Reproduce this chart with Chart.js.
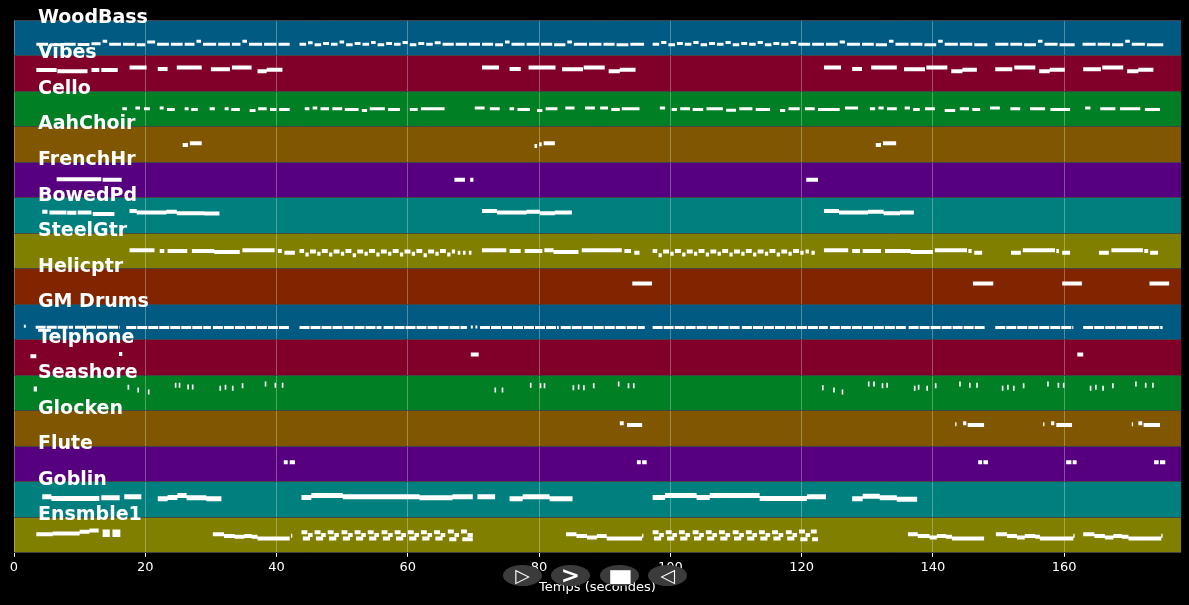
<!DOCTYPE html>
<html>
<head>
<meta charset="utf-8">
<script src="https://cdn.jsdelivr.net/npm/chart.js@4.4.0/dist/chart.umd.min.js"></script>
<style>
  body { margin: 0; background: #000; }
  #wrap { position: relative; width: 1189px; height: 605px; }
  .btn { position: absolute; top: 565px; width: 39px; height: 21px; border-radius: 50%;
         background: #3b3b3b; color: #fff; font: bold 19px "DejaVu Sans"; text-align: center;
         line-height: 21px; }
</style>
</head>
<body>
<div id="wrap">
  <canvas id="chart"></canvas>
  <div class="btn" style="left:503px">▷</div>
  <div class="btn" style="left:551px;font-size:23px">&gt;</div>
  <div class="btn" style="left:600px"><span style="display:inline-block;transform:scale(1.4,0.95)">■</span></div>
  <div class="btn" style="left:648px">◁</div>
</div>
<script>
'use strict';
// track names, top to bottom
const trackNames = ['WoodBass', 'Vibes', 'Cello', 'AahChoir', 'FrenchHr', 'BowedPd', 'SteelGtr', 'Helicptr',
  'GM Drums', 'Telphone', 'Seashore', 'Glocken', 'Flute', 'Goblin', 'Ensmble1'];
const laneColors = ['#005a82', '#80002a', '#007f24', '#805600', '#56007f', '#007f7f', '#807f00', '#802500'];
const timeTicks = [0, 20, 40, 60, 80, 100, 120, 140, 160];
const songEnd = 177.8;

// notes: [start (s), end (s), pitch level inside the lane]
const woodBass = [[3.4,5.2,.68],[5.5,7.3,.7],[7.6,9.4,.68],[9.7,11.5,.69],[11.8,13.2,.67],[13.5,14.2,.6],[14.5,16.3,.68],[16.6,18.4,.68],[18.7,20,.7],[20.3,21.5,.62],[21.8,23.6,.68],[23.9,25.7,.68],[26,27.5,.68],[27.8,28.5,.6],[28.8,30.8,.68],[31.1,32.9,.68],[33.2,34.5,.68],[34.8,35.5,.6],[35.8,37.8,.68],[38.1,40,.68],[40.3,42,.68],
  [43.5,44.5,.68],[44.8,45.5,.64],[45.8,46.8,.7],[47.1,48,.66],[48.3,49.3,.68],[49.6,50.3,.62],[50.6,51.6,.7],[51.9,52.8,.66],[53.1,54.1,.68],[54.4,55.1,.63],[55.4,56.4,.7],[56.7,57.6,.66],[57.9,58.9,.68],[59.2,60,.63],[60.3,61.3,.7],[61.6,62.5,.66],[62.8,63.8,.68],[64.1,65,.64],[65.3,67,.68],[67.3,69,.68],[69.3,71,.68],[71.3,73,.68],[73.3,74.5,.7],[74.8,75.5,.62],[75.8,77.8,.68],[78.1,80,.68],[80.3,82,.68],[82.3,84,.7],[84.3,85,.62],[85.3,87.3,.68],[87.6,89.5,.68],[89.8,91.5,.68],[91.8,93.6,.7],[93.9,96,.68],
  [97.3,98.3,.68],[98.6,99.4,.63],[99.7,100.7,.7],[101,101.9,.66],[102.2,103.2,.68],[103.5,104.3,.63],[104.6,105.6,.7],[105.9,106.8,.66],[107.1,108.1,.68],[108.4,109.2,.63],[109.5,110.5,.7],[110.8,111.7,.66],[112,113,.68],[113.3,114.1,.63],[114.4,115.4,.7],[115.7,116.6,.66],[116.9,118,.68],[118.3,119.2,.63],[119.5,121.3,.68],[121.6,123.4,.68],[123.7,125.5,.68],[125.8,126.6,.62],[126.9,128.9,.68],[129.2,131,.68],[131.3,133,.7],[133.3,134,.6],[134.3,136.3,.68],[136.6,138.4,.68],[138.7,140.5,.7],[140.8,141.5,.6],[141.8,143.8,.68],[144.1,146,.68],[146.3,148.3,.7],
  [149.5,151.5,.68],[151.8,153.6,.68],[153.9,155.7,.7],[156,156.7,.6],[157,159,.68],[159.3,161.6,.7],
  [162.8,164.8,.68],[165.1,167,.68],[167.3,169,.7],[169.3,170,.6],[170.3,172.3,.68],[172.6,175.1,.7]];
const vibes = [[3.4,6.5,.41],[6.6,11.2,.44],[11.8,13,.41],[13.3,15.8,.41],[17.6,20.2,.34],[21.9,23.4,.38],[24.8,28.6,.34],[30,32.9,.39],[33.2,36.2,.34],[37.1,38.5,.44],[38.5,40.9,.4],
  [71.3,73.9,.34],[75.5,77.2,.38],[78.4,82.5,.34],[83.5,86.7,.39],[86.8,90,.34],[90.6,92.3,.44],[92.3,94.7,.4],
  [123.4,126,.34],[127.7,129.2,.38],[130.6,134.5,.34],[135.6,138.8,.39],[139,142.2,.34],[142.8,144.5,.44],[144.5,146.7,.4],[149.5,152.1,.39],[152.4,155.6,.34],[156.2,157.8,.44],[157.8,160.1,.4],[162.9,165.6,.39],[165.8,169,.34],[169.6,171.3,.44],[171.3,173.6,.4]];
const cello = [[16.5,17.2,.5],[18.5,19.2,.48],[19.8,20.7,.5],[22.2,22.8,.48],[23.3,24.5,.52],[26,26.6,.5],[27,28,.52],[29.8,30.6,.5],[32.1,32.7,.5],[33.1,34.4,.52],[35.9,36.8,.55],[37.2,38.5,.5],[39,40,.52],[40.4,42,.52],[44.3,45,.5],[45.5,46.2,.48],[46.7,48,.5],[48.5,50,.5],[50.4,52.5,.52],[53,53.8,.55],[54.2,56.5,.5],[57,58.8,.52],[60.3,61.5,.52],[62,65.6,.5],[70.2,71.7,.48],[72.5,74,.5],[75.5,76.2,.5],[76.7,78.6,.52],[79.7,80.5,.55],[81,82.8,.5],[84,85.4,.48],[87,88.5,.48],[89.3,90.5,.48],[91,92.3,.52],[92.6,95.3,.5],[98.4,99.2,.48],[100.2,101,.52],[101.5,103,.5],[103.4,105,.52],[105.5,108,.5],[108.5,110,.54],[110.5,112.5,.5],[113,115.2,.52],[116.7,117.5,.55],[118,119.7,.5],[120.5,122,.5],[122.5,125.8,.52],[126.6,128.6,.48],[130.4,131.2,.5],[131.7,132.5,.48],[133,134.5,.5],[135.7,136.5,.48],[137,138,.52],[138.8,140.3,.5],[141.8,143.4,.55],[144.1,145.5,.5],[146,147.2,.52],[148.7,150.2,.48],[151.8,153.3,.5],[154.8,157.1,.5],[157.9,160.9,.52],[163.2,164,.48],[165.5,167.8,.5],[168.5,171.6,.5],[172.3,174.6,.52]];
const aahChoir = [[25.7,26.5,.52],[26.8,28.6,.47],[79.3,79.7,.55],[80,80.4,.5],[80.7,82.4,.47],[131.3,132.1,.52],[132.4,134.4,.47]];
const frenchHr = [[6.5,13.3,.48],[13.5,16.4,.5],[67.1,68.7,.5],[69.5,70,.5],[120.7,122.5,.5]];
const bowedPd = [[4.3,5.1,.4],[5.4,8,.42],[8.1,9.5,.43],[9.7,11.8,.42],[12,15.3,.46],[17.6,18.7,.38],[18.7,23.2,.42],[23.2,24.8,.4],[24.8,29,.44],[29,31.3,.45],
  [71.3,73.6,.38],[73.6,78.1,.42],[78.1,80.1,.4],[80.1,82.4,.44],[82.4,85,.42],
  [123.4,125.7,.38],[125.7,130.1,.42],[130.1,132.5,.4],[132.5,135,.44],[135,137.1,.42]];
const steelGtr = [[17.6,21.4,.48],[22.2,22.9,.5],[23.4,26.4,.5],[27.1,30.5,.5],[30.5,34.4,.53],[34.8,39.7,.48],[40.2,40.8,.5],[41.2,42.8,.55],
  [43.5,44.2,.5],[44.4,44.9,.6],[45.1,46,.52],[46.2,46.7,.58],[46.9,47.8,.5],[48,48.5,.6],[48.7,49.6,.52],[49.8,50.3,.58],[50.5,51.4,.5],[51.6,52.1,.62],[52.3,53.2,.52],[53.4,53.9,.58],[54.1,55,.5],[55.2,55.7,.6],[55.9,56.8,.52],[57,57.5,.58],[57.7,58.6,.5],[58.8,59.3,.6],[59.5,60.4,.52],[60.6,61.1,.58],[61.3,62.2,.5],[62.4,62.9,.62],[63.1,64,.52],[64.2,64.7,.58],[64.9,65.8,.5],[66,66.5,.6],[66.7,67.2,.52],[67.6,68,.55],[68.4,68.8,.55],[69.3,69.7,.55],
  [71.3,75,.48],[75.5,77.2,.5],[77.8,80.5,.5],[80.8,82.2,.48],[82.2,86,.53],[86.5,92.6,.48],[93,94,.5],[94.5,95.3,.55],
  [97.3,98,.5],[98.2,98.7,.62],[98.9,99.8,.52],[100,100.5,.58],[100.7,101.6,.5],[101.8,102.3,.6],[102.5,103.4,.52],[103.6,104.1,.58],[104.3,105.2,.5],[105.4,105.9,.6],[106.1,107,.52],[107.2,107.7,.58],[107.9,108.8,.5],[109,109.5,.6],[109.7,110.6,.52],[110.8,111.3,.58],[111.5,112.4,.5],[112.6,113.1,.6],[113.3,114.2,.52],[114.4,114.9,.58],[115.1,116,.5],[116.2,116.7,.6],[116.9,117.8,.52],[118,118.5,.58],[118.7,119.6,.5],[119.8,120.3,.55],[120.6,121.1,.52],[121.5,122,.55],
  [123.4,127.1,.48],[127.7,128.9,.5],[129.3,132.1,.5],[132.7,136.6,.5],[136.6,140,.53],[140.3,145.2,.48],[145.4,145.9,.5],[146.3,147.5,.55],
  [151.9,153.4,.55],[153.7,158.6,.48],[158.8,159.2,.5],[159.7,160.9,.55],
  [165.3,166.8,.55],[167.2,172,.48],[172.2,172.8,.5],[173.1,174.3,.55]];
const helicptr = [[94.2,97.2,.42],[146.1,149.2,.42],[159.7,162.7,.42],[173,176,.42]];
const gmDrums = [[1.5,1.8,.62],[3.3,9,.65],[9.3,16.1,.65],[17.1,30,.66],[30.3,42,.66],[43.5,56,.66],[56.3,69,.66],[69.6,69.9,.64],[70.3,70.6,.64],[71,83,.66],[83.3,96.1,.66],[97.3,110.6,.66],[110.9,124,.66],[124.3,136,.66],[136.3,148,.66],[149.5,161.4,.66],[162.9,175,.66]];
const telphone = [[2.5,3.4,.47],[16,16.5,.4],[69.6,70.8,.42],[162,162.9,.42]];
const seashore = [[3,3.5,.39],[17.3,17.55,.34],[18.8,19.05,.42],[20.4,20.65,.47],[24.5,24.75,.28],[25.1,25.35,.28],[26.4,26.65,.33],[27.1,27.35,.33],[31.3,31.55,.37],[32.1,32.35,.34],[33.2,33.45,.37],[34.7,34.95,.3],[38.2,38.45,.25],[39.7,39.95,.28],[40.8,41.05,.28],
  [73.2,73.45,.42],[74.3,74.55,.42],[78.6,78.85,.28],[80.1,80.35,.3],[80.7,80.95,.3],[85.1,85.35,.35],[85.9,86.15,.33],[86.7,86.95,.35],[88.2,88.45,.3],[92,92.25,.25],[93.5,93.75,.3],[94.3,94.55,.3],
  [123.1,123.35,.35],[124.8,125.05,.42],[126.1,126.35,.47],[130.1,130.35,.25],[130.9,131.15,.25],[132.2,132.45,.3],[132.9,133.15,.28],[137.1,137.35,.37],[137.7,137.95,.34],[139,139.25,.37],[140.3,140.55,.3],[144,144.25,.25],[145.5,145.75,.28],[146.6,146.85,.28],
  [150.5,150.75,.37],[151.3,151.55,.34],[152.2,152.45,.37],[153.7,153.95,.3],[157.4,157.65,.25],[159,159.25,.28],[159.8,160.05,.28],[163.9,164.15,.37],[164.7,164.95,.34],[165.8,166.05,.37],[167.3,167.55,.3],[170.8,171.05,.25],[172.3,172.55,.28],[173.4,173.65,.28]];
const glocken = [[92.3,92.9,.35],[93.4,95.7,.4],[143.4,143.6,.38],[144.6,145.1,.35],[145.3,147.8,.4],[156.8,157,.38],[158,158.5,.35],[158.8,161.2,.4],[170.3,170.5,.38],[171.3,171.9,.35],[172.1,174.6,.4]];
const flute = [[41.1,41.7,.45],[42,42.8,.45],[94.9,95.5,.45],[95.7,96.4,.45],[146.9,147.5,.45],[147.7,148.4,.45],[160.3,161.1,.45],[161.3,161.9,.45],[173.7,174.4,.45],[174.6,175.4,.45]];
const goblin = [[4.3,5.7,.42],[5.7,13,.47],[13.3,16.1,.45],[16.8,19.4,.42],[21.9,23.4,.48],[23.4,24.9,.44],[24.9,26.3,.39],[26.3,29.3,.45],[29.3,31.6,.48],[43.8,45.3,.44],[45.3,50.1,.39],[50.1,61.8,.42],[61.8,66.8,.45],[66.8,69.9,.42],[70.6,73.3,.42],[75.5,77.5,.48],[77.5,81.6,.42],[81.6,85.1,.48],[97.3,99.2,.44],[99.2,104,.39],[104,106,.44],[106,113.6,.39],[113.6,120.8,.47],[120.8,123.7,.42],[127.7,129.3,.48],[129.3,131.9,.41],[131.9,134.5,.45],[134.5,137.6,.49]];
const ensmble1 = [[3.4,5.9,.48],[5.9,10,.46],[10,11.5,.41],[11.5,12.9,.37],[13.5,14.6,.4],[13.5,14.6,.5],[15,16.2,.4],[15,16.2,.5],
  [30.3,32,.48],[32,33.6,.53],[33.6,35.1,.55],[35.1,36.2,.53],[36.2,37.1,.55],[37.1,42,.6],[42.2,42.4,.52],
  [43.8,44.7,.42],[44,45.1,.6],[44.8,45.5,.5],[45.8,46.7,.42],[46,47.1,.6],[46.8,47.5,.5],[47.8,48.7,.42],[48,49.1,.6],[48.8,49.5,.5],[49.9,50.8,.42],[50.1,51.2,.6],[50.9,51.6,.5],[51.9,52.8,.42],[52.1,53.2,.6],[52.9,53.6,.5],[53.9,54.8,.42],[54.1,55.2,.6],[54.9,55.6,.5],[56,56.9,.42],[56.2,57.3,.6],[57,57.7,.5],[58,58.9,.42],[58.2,59.3,.6],[59,59.7,.5],[60,60.9,.42],[60.2,61.3,.6],[61,61.7,.5],[62,62.9,.42],[62.2,63.3,.6],[63,63.7,.5],[64,64.9,.42],[64.2,65.3,.6],[65,65.7,.5],[66.1,67,.4],[66.3,67.4,.62],[67.1,67.8,.5],[68.1,69,.4],[68.3,69.9,.62],[69.1,69.9,.5],
  [84.1,85.7,.48],[85.7,87.3,.53],[87.3,88.8,.57],[88.8,90.3,.53],[90.3,95.7,.6],[95.7,95.9,.52],
  [97.3,98.2,.42],[97.5,98.6,.6],[98.3,99,.5],[99.3,100.2,.42],[99.5,100.6,.6],[100.3,101,.5],[101.3,102.2,.42],[101.5,102.6,.6],[102.3,103,.5],[103.4,104.3,.42],[103.6,104.7,.6],[104.4,105.1,.5],[105.4,106.3,.42],[105.6,106.7,.6],[106.4,107.1,.5],[107.4,108.3,.42],[107.6,108.7,.6],[108.4,109.1,.5],[109.5,110.4,.42],[109.7,110.8,.6],[110.5,111.2,.5],[111.5,112.4,.42],[111.7,112.8,.6],[112.5,113.2,.5],[113.5,114.4,.42],[113.7,114.8,.6],[114.5,115.2,.5],[115.5,116.4,.42],[115.7,116.8,.6],[116.5,117.2,.5],[117.6,118.5,.42],[117.8,118.9,.6],[118.6,119.3,.5],[119.6,120.5,.4],[119.8,120.9,.62],[120.6,121.3,.5],[121.4,122.3,.4],[121.6,122.5,.62],
  [136.2,137.7,.48],[137.7,139.5,.53],[139.5,140.6,.57],[140.6,142,.53],[142,142.9,.55],[142.9,147.8,.6],
  [149.6,151.3,.48],[151.3,152.8,.53],[152.8,154,.57],[154,155.6,.53],[155.6,156.3,.55],[156.3,161.4,.6],[161.4,161.6,.52],
  [162.9,164.6,.48],[164.6,166.2,.53],[166.2,167.5,.57],[167.5,168.8,.53],[168.8,169.8,.55],[169.8,174.8,.6],[174.8,175,.52]];

const trackNotes = [woodBass, vibes, cello, aahChoir, frenchHr, bowedPd, steelGtr, helicptr,
  gmDrums, telphone, seashore, glocken, flute, goblin, ensmble1];
const noteWidths = [3, 4, 3, 4, 4, 4, 4, 4, 3, 4, 5, 4, 4, 5, 4];

let canvasElem = document.getElementById('chart');

function laneBand(i) {
  return {
    data: [{x: 0, y: i}, {x: songEnd, y: i}],
    borderWidth: 0,
    pointRadius: 0,
    backgroundColor: laneColors[i % laneColors.length],
    fill: {value: i + 1},
    order: 2
  };
}

function noteLine(notes, i) {
  // each note becomes a short line segment, null point breaks the line
  const pts = [];
  notes.forEach(n => {
    pts.push({x: n[0], y: i + n[2]}, {x: n[1], y: i + n[2]}, {x: n[1], y: null});
  });
  return {
    data: pts,
    borderColor: '#ffffff',
    borderWidth: noteWidths[i],
    borderCapStyle: 'butt',
    borderDash: trackNames[i] === 'GM Drums' ? [10, 1] : [],
    pointRadius: 0,
    spanGaps: false,
    fill: false,
    order: 1
  };
}

const trackLabels = {
  id: 'trackLabels',
  afterDraw(chart) {
    const ctx = chart.ctx;
    const yScale = chart.scales.y;
    ctx.save();
    ctx.font = 'bold 19px "DejaVu Sans"';
    ctx.fillStyle = '#ffffff';
    ctx.textBaseline = 'middle';
    trackNames.forEach((name, i) => {
      ctx.fillText(name, chart.chartArea.left + 24, yScale.getPixelForValue(i) - 2);
    });
    ctx.restore();
  }
};

function renderChart() {
  const datasets = trackNames.map((n, i) => laneBand(i))
    .concat(trackNotes.map((notes, i) => noteLine(notes, i)));

  Chart.defaults.font.family = '"DejaVu Sans"';
  Chart.defaults.color = '#ffffff';

  new Chart(canvasElem, {
    type: 'line',
    data: {datasets: datasets},
    options: {
      responsive: true,
      maintainAspectRatio: false,
      animation: false,
      layout: {padding: {top: 20, left: 14, right: 8, bottom: 10}},
      plugins: {legend: {display: false}, tooltip: {enabled: false}},
      scales: {
        x: {
          type: 'linear',
          min: 0,
          max: songEnd,
          border: {display: false},
          grid: {color: 'rgba(255,255,255,0.3)', tickColor: '#ffffff', tickLength: 4, z: 1},
          afterBuildTicks: axis => { axis.ticks = timeTicks.map(v => ({value: v})); },
          ticks: {font: {size: 13}, color: '#ffffff', padding: 3, maxRotation: 0},
          title: {display: true, text: 'Temps (secondes)', font: {size: 13}, color: '#ffffff', padding: {top: 1, bottom: 0}}
        },
        y: {
          type: 'linear',
          min: 0,
          max: trackNames.length,
          reverse: true,
          border: {display: false},
          grid: {color: 'rgba(70,70,70,0.9)', drawTicks: false, z: 1},
          ticks: {display: false, stepSize: 1}
        }
      }
    },
    plugins: [trackLabels]
  });
}
renderChart();
</script>
</body>
</html>
